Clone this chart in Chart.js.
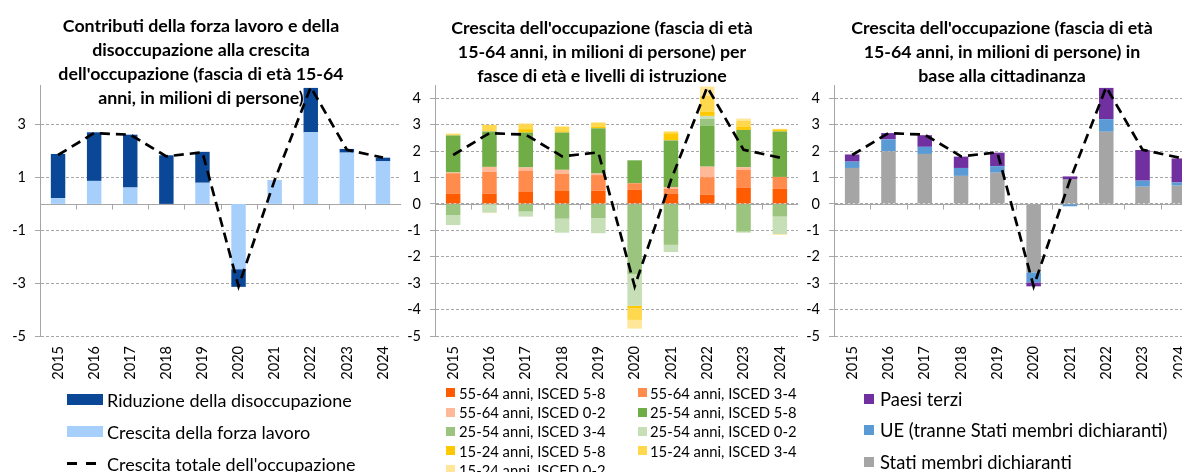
<!DOCTYPE html>
<html lang="it">
<head>
<meta charset="utf-8">
<script src="https://cdn.jsdelivr.net/npm/chart.js@4/dist/chart.umd.min.js"></script>
<style>
  html, body { margin: 0; padding: 0; background: #fff; }
  body { width: 1182px; height: 472px; overflow: hidden; position: relative; font-family: Lato, "Open Sans", sans-serif; color: #000; }
  canvas { position: absolute; }
  .title { position: absolute; text-align: center; font-weight: bold; font-size: 17.8px; line-height: 24px; white-space: nowrap; z-index: 2; }
  .leg { position: absolute; white-space: nowrap; display: flex; align-items: center; z-index: 3; }
  .leg .box { display: inline-block; flex: none; }
</style>
</head>
<body>
<div class="title" style="left:0; width:402px; top:13px">Contributi della forza lavoro e della<br>disoccupazione alla crescita<br>dell'occupazione (fascia di età 15-64<br>anni, in milioni di persone)</div>
<div class="title" style="left:402px; width:400px; top:15px">Crescita dell'occupazione (fascia di età<br>15-64 anni, in milioni di persone) per<br>fasce di età e livelli di istruzione</div>
<div class="title" style="left:802px; width:400px; top:15px">Crescita dell'occupazione (fascia di età<br>15-64 anni, in milioni di persone) in<br>base alla cittadinanza</div>

<canvas id="chartOne" width="401" height="331" style="left:0; top:80px"></canvas>
<canvas id="chartTwo" width="398" height="331" style="left:400px; top:80px"></canvas>
<canvas id="chartThree" width="400" height="331" style="left:797px; top:80px"></canvas>
<div id="legends"></div>

<script>
// categories
const years = ['2015', '2016', '2017', '2018', '2019', '2020', '2021', '2022', '2023', '2024'];

// tick labels
const yTicksOne = [-5, -3, -1, 1, 3];
const yTicksTwo = [-5, -4, -3, -2, -1, 0, 1, 2, 3, 4];

// total employment growth (dashed line, same in all three panels)
const crescitaTotale = [1.85, 2.68, 2.62, 1.80, 1.95, -3.12, 0.90, 4.42, 2.05, 1.75];

// panel 1
const crescitaForzaLavoro = [0.22, 0.87, 0.62, 0.00, 0.80, -2.47, 0.89, 2.71, 1.94, 1.61];
const riduzioneDisocc = [1.67, 1.84, 2.00, 1.84, 1.17, -0.67, 0.01, 1.68, 0.14, 0.14];

// panel 2 (age group / education level)
const eta5564Isced58 = [0.38, 0.38, 0.45, 0.49, 0.50, 0.53, 0.38, 0.35, 0.62, 0.57];
const eta5564Isced34 = [0.78, 0.83, 0.81, 0.65, 0.59, 0.25, 0.19, 0.66, 0.67, 0.45];
const eta5564Isced02 = [0.03, 0.19, 0.12, 0.15, 0.06, 0.00, 0.07, 0.40, 0.10, 0.00];
const eta2554Isced58 = [1.40, 1.34, 1.32, 1.41, 1.71, 0.87, 1.76, 1.54, 1.41, 1.72];
const eta2554Isced34 = [-0.42, 0.00, -0.29, -0.56, -0.54, -2.65, -1.55, 0.27, -1.05, -0.48];
const eta2554Isced02 = [-0.38, -0.33, -0.19, -0.53, -0.57, -1.21, -0.27, 0.11, -0.04, -0.66];
const eta1524Isced58 = [0.00, 0.00, 0.13, 0.05, 0.07, -0.09, 0.27, 0.15, 0.13, 0.06];
const eta1524Isced34 = [0.05, 0.25, 0.19, 0.18, 0.15, -0.44, 0.07, 0.62, 0.22, 0.04];
const eta1524Isced02 = [0.03, -0.02, 0.03, 0.00, 0.00, -0.33, 0.00, 0.34, 0.08, -0.03];

// panel 3 (citizenship)
const statiDichiaranti = [1.36, 1.99, 1.89, 1.06, 1.18, -2.59, 0.92, 2.73, 0.65, 0.69];
const ueAltri = [0.24, 0.45, 0.27, 0.30, 0.25, -0.38, -0.09, 0.48, 0.23, 0.12];
const paesiTerzi = [0.27, 0.24, 0.44, 0.43, 0.51, -0.15, 0.12, 1.18, 1.16, 0.91];

const gridGrey = '#a6a6a6';
const font = 'Lato, "Open Sans", sans-serif';

// horizontal axis drawn at zero with small tick marks between categories
const zeroAxis = {
    id: 'zeroAxis',
    beforeDatasetsDraw(chart) {
        const {ctx, chartArea, scales: {x, y}} = chart;
        const y0 = Math.round(y.getPixelForValue(0)) + 0.5;
        const n = x.ticks.length;
        const w = (chartArea.right - chartArea.left) / n;
        ctx.save();
        ctx.strokeStyle = gridGrey;
        ctx.lineWidth = 1;
        ctx.beginPath();
        ctx.moveTo(chartArea.left, y0);
        ctx.lineTo(chartArea.right, y0);
        for (let i = 0; i <= n; i++) {
            const px = Math.round(chartArea.left + i * w) + 0.5;
            ctx.moveTo(px, y0);
            ctx.lineTo(px, y0 + 5);
        }
        ctx.stroke();
        ctx.restore();
    }
};

function lineSet(label) {
    return {
        type: 'line',
        label: label,
        data: crescitaTotale,
        borderColor: '#000',
        borderWidth: 2.7,
        borderDash: [10, 6],
        pointRadius: 0,
        tension: 0,
        fill: false,
        order: 0
    };
}

function barSet(label, data, color) {
    return { label: label, data: data, backgroundColor: color, order: 1, barPercentage: 0.4, categoryPercentage: 1 };
}

function makeOptions(ticks, yWidth) {
    return {
        responsive: false,
        animation: false,
        layout: { padding: { top: 5, right: 0, left: 0, bottom: 0 } },
        plugins: { legend: { display: false }, tooltip: { enabled: false } },
        scales: {
            x: {
                stacked: true,
                grid: { display: false },
                border: { display: false },
                ticks: { minRotation: 90, maxRotation: 90, padding: 2, color: '#000', font: { family: font, size: 14.5 } },
                afterFit: s => { s.height = 75; s.paddingLeft = 0; s.paddingRight = 0; }
            },
            y: {
                stacked: true,
                min: -5,
                max: 4.5,
                afterBuildTicks: s => { s.ticks = ticks.map(v => ({ value: v })); },
                afterFit: s => { s.width = yWidth; s.paddingTop = 0; s.paddingBottom = 0; },
                grid: { color: gridGrey, tickColor: gridGrey, tickLength: 5, lineWidth: 1 },
                border: { display: true, color: gridGrey, width: 1, dash: [3, 2] },
                ticks: { padding: 9, color: '#000', font: { family: font, size: 14.5 } }
            }
        }
    };
}

let studentsChart1 = new Chart(document.getElementById('chartOne'), {
    type: 'bar',
    data: {
        labels: years,
        datasets: [
            barSet('Crescita della forza lavoro', crescitaForzaLavoro, '#a7cffb'),
            barSet('Riduzione della disoccupazione', riduzioneDisocc, '#0b4797'),
            lineSet("Crescita totale dell'occupazione")
        ]
    },
    options: makeOptions(yTicksOne, 40),
    plugins: [zeroAxis]
});

let studentsChart2 = new Chart(document.getElementById('chartTwo'), {
    type: 'bar',
    data: {
        labels: years,
        datasets: [
            barSet('55-64 anni, ISCED 5-8', eta5564Isced58, '#ff5b00'),
            barSet('55-64 anni, ISCED 3-4', eta5564Isced34, '#ff8b4d'),
            barSet('55-64 anni, ISCED 0-2', eta5564Isced02, '#ffb999'),
            barSet('25-54 anni, ISCED 5-8', eta2554Isced58, '#70ad47'),
            barSet('25-54 anni, ISCED 3-4', eta2554Isced34, '#9bc57e'),
            barSet('25-54 anni, ISCED 0-2', eta2554Isced02, '#c6dfb6'),
            barSet('15-24 anni, ISCED 5-8', eta1524Isced58, '#ffc800'),
            barSet('15-24 anni, ISCED 3-4', eta1524Isced34, '#ffd84d'),
            barSet('15-24 anni, ISCED 0-2', eta1524Isced02, '#ffe699'),
            lineSet("Crescita totale dell'occupazione")
        ]
    },
    options: makeOptions(yTicksTwo, 35),
    plugins: [zeroAxis]
});

let studentsChart3 = new Chart(document.getElementById('chartThree'), {
    type: 'bar',
    data: {
        labels: years,
        datasets: [
            barSet('Stati membri dichiaranti', statiDichiaranti, '#a5a5a5'),
            barSet('UE (tranne Stati membri dichiaranti)', ueAltri, '#5b9bd5'),
            barSet('Paesi terzi', paesiTerzi, '#7030a0'),
            lineSet("Crescita totale dell'occupazione")
        ]
    },
    options: makeOptions(yTicksTwo, 37),
    plugins: [zeroAxis]
});

// html legends built from the chart datasets
const legendHost = document.getElementById('legends');

function addLegendItem(ds, x, yCenter, fontSize, boxW, boxH, textX) {
    const el = document.createElement('div');
    el.className = 'leg';
    el.style.left = x + 'px';
    el.style.top = (yCenter - fontSize * 0.7) + 'px';
    el.style.height = (fontSize * 1.4) + 'px';
    el.style.fontSize = fontSize + 'px';
    const box = document.createElement('span');
    box.className = 'box';
    box.style.width = boxW + 'px';
    box.style.marginRight = (textX - x - boxW) + 'px';
    if (ds.borderDash) {
        // dashed sample for the line series
        box.style.height = '3px';
        box.style.background = 'repeating-linear-gradient(to right, #000 0px, #000 10px, transparent 10px, transparent 19px)';
    } else {
        box.style.height = boxH + 'px';
        box.style.background = ds.backgroundColor;
    }
    el.appendChild(box);
    el.appendChild(document.createTextNode(ds.label));
    legendHost.appendChild(el);
}

// panel 1: one item per row, wide markers
const d1 = studentsChart1.data.datasets;
[d1[1], d1[0], d1[2]].forEach((ds, i) => addLegendItem(ds, 67, 400 + i * 32, 18, 36, 11, 107));

// panel 2: two columns of small squares
studentsChart2.data.datasets.filter(ds => !ds.borderDash).forEach((ds, i) => {
    const col = i % 2, row = Math.floor(i / 2);
    addLegendItem(ds, col ? 638 : 446, 393 + row * 19.2, 14.8, 9, 9, col ? 650 : 459);
});

// panel 3: reversed stack order
const d3 = studentsChart3.data.datasets;
[d3[2], d3[1], d3[0]].forEach((ds, i) => addLegendItem(ds, 864, 399 + i * 31.5, 18.4, 10, 10, 880));
</script>
</body>
</html>
